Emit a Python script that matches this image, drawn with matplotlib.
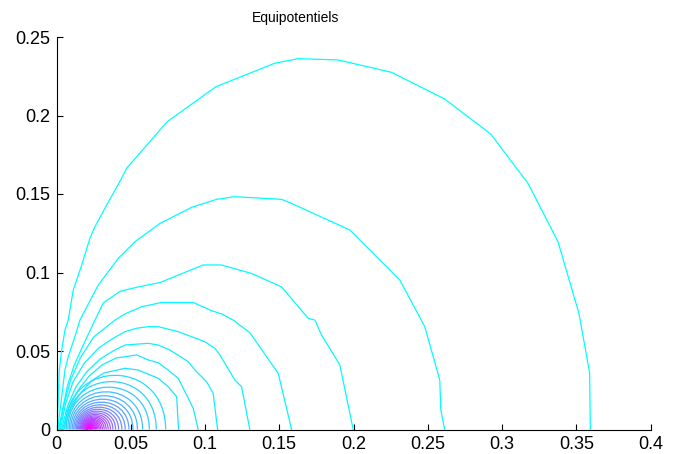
import numpy as np
import matplotlib.pyplot as plt
from matplotlib import cm
from matplotlib.path import Path
from matplotlib.patches import PathPatch

# traced outer equipotential lines, outermost first (x, y in data units)
c1_x = [0.0003, 0.0019, 0.0035, 0.0057, 0.0079, 0.0113, 0.0170, 0.0225, 0.0259, 0.0338, 0.0432, 0.0472,
        0.0746, 0.1073, 0.1470, 0.1627, 0.1896, 0.2256, 0.2614, 0.2924, 0.3175, 0.3377, 0.3518, 0.3590, 0.3595]
c1_y = [0.0, 0.0379, 0.0506, 0.0634, 0.0697, 0.0889, 0.1048, 0.1218, 0.1292, 0.1430, 0.1589, 0.1664,
        0.1961, 0.2183, 0.2333, 0.2362, 0.2354, 0.2275, 0.2105, 0.1882, 0.1568, 0.1196, 0.0740, 0.0362, 0.0]

c2_x = [0.0008, 0.0057, 0.0079, 0.0124, 0.0158, 0.0281, 0.0416, 0.0528, 0.0697, 0.0910, 0.1078, 0.1201,
        0.1515, 0.1571, 0.1975, 0.2312, 0.2480, 0.2581, 0.2588, 0.2614]
c2_y = [0.0, 0.0379, 0.0464, 0.0591, 0.0697, 0.0920, 0.1090, 0.1196, 0.1313, 0.1415, 0.1466, 0.1483,
        0.1466, 0.1445, 0.1271, 0.0952, 0.0655, 0.0315, 0.0124, 0.0]

c3_x = [0.0014, 0.0040, 0.0075, 0.0120, 0.0180, 0.0259, 0.0315, 0.0427, 0.0550, 0.0697, 0.0987, 0.1111,
        0.1313, 0.1515, 0.1695, 0.1740, 0.1785, 0.1908, 0.1998]
c3_y = [0.0, 0.0124, 0.0283, 0.0411, 0.0538, 0.0697, 0.0806, 0.0880, 0.0908, 0.0936, 0.1048, 0.1048,
        0.0994, 0.0909, 0.0708, 0.0697, 0.0602, 0.0411, 0.0]

c4_x = [0.0020, 0.0050, 0.0095, 0.0160, 0.0250, 0.0394, 0.0461, 0.0573, 0.0708, 0.0921, 0.1044, 0.1112,
        0.1190, 0.1302, 0.1493, 0.1504, 0.1583]
c4_y = [0.0, 0.0156, 0.0315, 0.0455, 0.0589, 0.0697, 0.0736, 0.0782, 0.0809, 0.0809, 0.0757, 0.0736,
        0.0697, 0.0617, 0.0358, 0.0315, 0.0]

c5_x = [0.0026, 0.0060, 0.0110, 0.0185, 0.0285, 0.0380, 0.0461, 0.0540, 0.0618, 0.0685, 0.0820, 0.0910,
        0.0999, 0.1067, 0.1100, 0.1201, 0.1246, 0.1302]
c5_y = [0.0, 0.0160, 0.0300, 0.0420, 0.0520, 0.0580, 0.0623, 0.0645, 0.0655, 0.0655, 0.0623, 0.0591,
        0.0559, 0.0517, 0.0475, 0.0315, 0.0273, 0.0]

c6_x = [0.0033, 0.0075, 0.0130, 0.0205, 0.0295, 0.0390, 0.0461, 0.0618, 0.0685, 0.0764, 0.0887, 0.0932,
        0.1011, 0.1055, 0.1085]
c6_y = [0.0, 0.0150, 0.0270, 0.0370, 0.0450, 0.0505, 0.0538, 0.0549, 0.0538, 0.0506, 0.0432, 0.0379,
        0.0304, 0.0231, 0.0]

c7_x = [0.0040, 0.0085, 0.0145, 0.0220, 0.0305, 0.0400, 0.0540, 0.0618, 0.0685, 0.0752, 0.0820, 0.0887,
        0.0921, 0.0954]
c7_y = [0.0, 0.0140, 0.0250, 0.0340, 0.0410, 0.0455, 0.0475, 0.0443, 0.0425, 0.0379, 0.0326, 0.0199,
        0.0135, 0.0]

c8_x = [0.0048, 0.0095, 0.0160, 0.0235, 0.0320, 0.0461, 0.0550, 0.0685, 0.0752, 0.0809, 0.0822]
c8_y = [0.0, 0.0130, 0.0230, 0.0310, 0.0360, 0.0390, 0.0379, 0.0326, 0.0273, 0.0209, 0.0]

outer_x = [c1_x, c2_x, c3_x, c4_x, c5_x, c6_x, c7_x, c8_x]
outer_y = [c1_y, c2_y, c3_y, c4_y, c5_y, c6_y, c7_y, c8_y]

# inner lines around the charge: left / right crossing of y=0 and height
inner_left = [0.0057, 0.0066, 0.0076, 0.0086, 0.0096, 0.0106, 0.0116, 0.0125, 0.0133, 0.0141,
              0.0148, 0.0155, 0.0161, 0.0167, 0.0172, 0.0177, 0.0181, 0.0185, 0.0189, 0.0192,
              0.0195, 0.0198, 0.0200, 0.0202, 0.0204, 0.0206, 0.0207, 0.0208, 0.0209, 0.0210,
              0.0211, 0.0212]
inner_right = [0.0735, 0.0672, 0.0625, 0.0580, 0.0545, 0.0515, 0.0488, 0.0463, 0.0440, 0.0418,
               0.0398, 0.0380, 0.0363, 0.0348, 0.0334, 0.0321, 0.0309, 0.0298, 0.0288, 0.0279,
               0.0271, 0.0264, 0.0257, 0.0251, 0.0246, 0.0241, 0.0237, 0.0233, 0.0230, 0.0227,
               0.0224, 0.0222]
inner_top = [0.0345, 0.0305, 0.0270, 0.0240, 0.0215, 0.0193, 0.0174, 0.0157, 0.0142, 0.0129,
             0.0117, 0.0106, 0.0096, 0.0087, 0.0079, 0.0072, 0.0065, 0.0059, 0.0054, 0.0049,
             0.0044, 0.0040, 0.0036, 0.0033, 0.0030, 0.0027, 0.0024, 0.0022, 0.0020, 0.0018,
             0.0016, 0.0014]

# colour position of every line in the 'cool' map (outer -> inner)
levels = [0.00, 0.01, 0.02, 0.03, 0.04, 0.06, 0.08, 0.10,
          0.13, 0.17, 0.21, 0.25, 0.29, 0.33, 0.37,
          0.41, 0.45, 0.49, 0.53, 0.57, 0.61, 0.65,
          0.68, 0.70, 0.72, 0.74, 0.76, 0.78, 0.80, 0.82, 0.84,
          0.86, 0.88, 0.90, 0.92, 0.94, 0.96, 0.97, 0.99, 1.00]

xticks = [0, 0.05, 0.1, 0.15, 0.2, 0.25, 0.3, 0.35, 0.4]
xtick_labels = ['0', '0.05', '0.1', '0.15', '0.2', '0.25', '0.3', '0.35', '0.4']
yticks = [0, 0.05, 0.1, 0.15, 0.2, 0.25]
ytick_labels = ['0', '0.05', '0.1', '0.15', '0.2', '0.25']

plt.rcParams['font.family'] = ['Liberation Sans', 'DejaVu Sans']

fig = plt.figure(figsize=(6.81, 4.54), dpi=100)
ax = fig.add_axes([56.5 / 681, 1 - 429.5 / 454, (650.5 - 56.5) / 681, (429.5 - 37) / 454])

n_outer = len(outer_x)
for i, (lx, ly) in enumerate(zip(outer_x, outer_y)):
    ax.plot(lx, ly, color=cm.cool(levels[i]), lw=0.9)

# small closed-in lines drawn as cubic curves standing on the axis
for j, (xl, xr, h) in enumerate(zip(inner_left, inner_right, inner_top)):
    verts = [(xl, 0), (xl, h * 4 / 3), (xr, h * 4 / 3), (xr, 0)]
    codes = [Path.MOVETO, Path.CURVE4, Path.CURVE4, Path.CURVE4]
    ax.add_patch(PathPatch(Path(verts, codes), fill=False,
                           edgecolor=cm.cool(levels[n_outer + j]), lw=0.9))

ax.set_xlim(0, 0.4)
ax.set_ylim(0, 0.25)
ax.set_xticks(xticks)
ax.set_xticklabels(xtick_labels)
ax.set_yticks(yticks)
ax.set_yticklabels(ytick_labels)
ax.tick_params(direction='in', length=4, labelsize=13, width=0.8, pad=4.5)
ax.spines['top'].set_visible(False)
ax.spines['right'].set_visible(False)
fig.text(296 / 681, 1 - 18 / 454, 'Equipotentiels', ha='center', va='center', fontsize=10)

fig.savefig('out.png', dpi=100)
